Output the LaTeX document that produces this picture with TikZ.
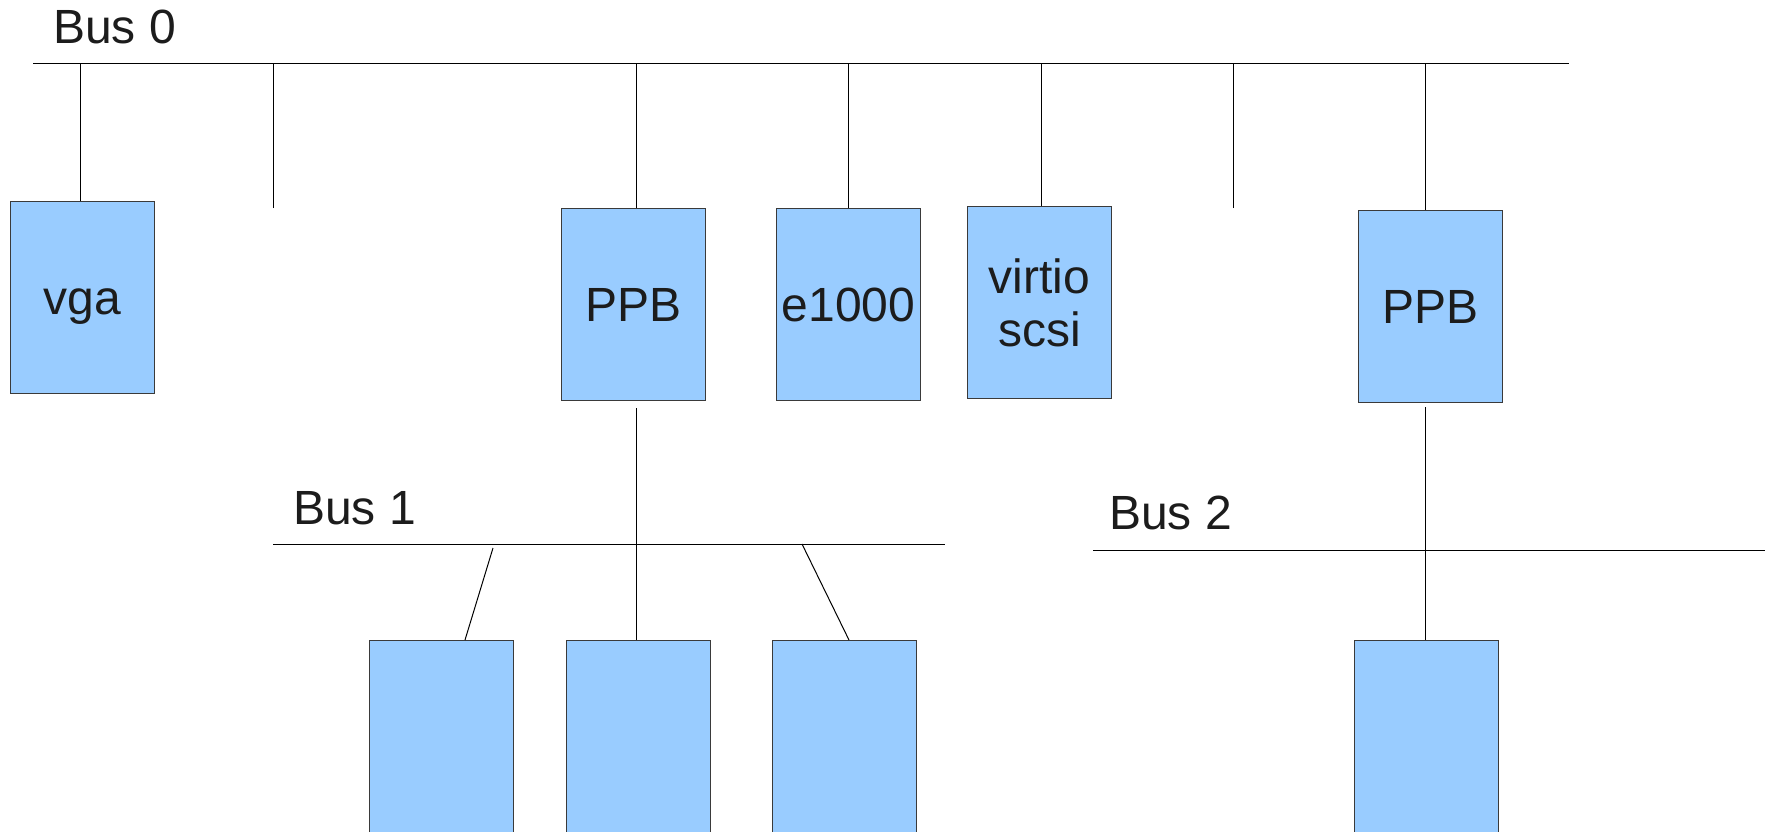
\documentclass[tikz,border=0pt]{standalone}
\usepackage{fontspec}
\setmainfont{Liberation Sans}
\definecolor{boxfill}{HTML}{99CCFF}
\definecolor{boxline}{HTML}{3A3A3A}
\definecolor{txt}{HTML}{1C1C1C}
\begin{document}
\begin{tikzpicture}[x=1pt,y=-1pt,
  dev/.style={draw=boxline,fill=boxfill,line width=1pt,minimum width=144pt,minimum height=192pt,inner sep=0pt,anchor=north west,
    font=\fontsize{48}{53}\selectfont,text=txt,align=center},
  one/.style={text height=43.4pt,text depth=10.2pt},
  wire/.style={draw=black,line width=1pt},
  buslabel/.style={anchor=base west,inner sep=0pt,font=\fontsize{48}{53}\selectfont,text=txt}]
\useasboundingbox[fill=white] (0,0) rectangle (1769,832);
% buses
\coordinate (b0L) at (33,64);  \coordinate (b0R) at (1569,64);
\coordinate (b1L) at (273,544); \coordinate (b1R) at (945,544);
\coordinate (b2L) at (1093,550); \coordinate (b2R) at (1765,550);
\draw[wire] (b0L) -- (b0R);
\draw[wire] (b1L) -- (b1R);
\draw[wire] (b2L) -- (b2R);
\node[buslabel] (l0) at (53,44) {Bus 0};
\node[buslabel] (l1) at (293,524) {Bus 1};
\node[buslabel] (l2) at (1109,529) {Bus 2};
% devices on bus 0
\node[dev,one] (vga) at (10,201) {vga};
\node[dev,one] (ppb1) at (561,208) {PPB};
\node[dev,one] (eth) at (776,208) {e1000};
\node[dev] (scsi) at (967,206) {virtio\\scsi};
\node[dev,one] (ppb2) at (1358,210) {PPB};
% devices on bus 1 and 2
\node[dev,minimum height=200pt] (c1) at (369,640) {};
\node[dev,minimum height=200pt] (c2) at (566,640) {};
\node[dev,minimum height=200pt] (c3) at (772,640) {};
\node[dev,minimum height=200pt] (c4) at (1354,640) {};
% stubs
\coordinate (s1) at (273,208);
\coordinate (s2) at (1233,208);
\draw[wire] (s1) -- (s1 |- b0L);
\draw[wire] (s2) -- (s2 |- b0L);
% connectors to bus 0
\draw[wire] ([xshift=-2pt]vga.north) -- ([xshift=-2pt]vga.north |- b0L);
\draw[wire] ([xshift=3pt]ppb1.north) -- ([xshift=3pt]ppb1.north |- b0L);
\draw[wire] (eth.north) -- (eth.north |- b0L);
\draw[wire] ([xshift=2pt]scsi.north) -- ([xshift=2pt]scsi.north |- b0L);
\draw[wire] ([xshift=-5pt]ppb2.north) -- ([xshift=-5pt]ppb2.north |- b0L);
% bridges down
\draw[wire] ([xshift=3pt,yshift=-7pt]ppb1.south) -- ([xshift=3pt]ppb1.south |- c2.north);
\draw[wire] ([xshift=-5pt,yshift=-4pt]ppb2.south) -- ([xshift=-5pt]ppb2.south |- c4.north);
% bus 1 children
\coordinate (d1) at (493,548);
\coordinate (d3) at (802,544);
\draw[wire] (d1) -- ([xshift=96pt]c1.north west);
\draw[wire] (d3) -- ([xshift=77pt]c3.north west);
\end{tikzpicture}
\end{document}
